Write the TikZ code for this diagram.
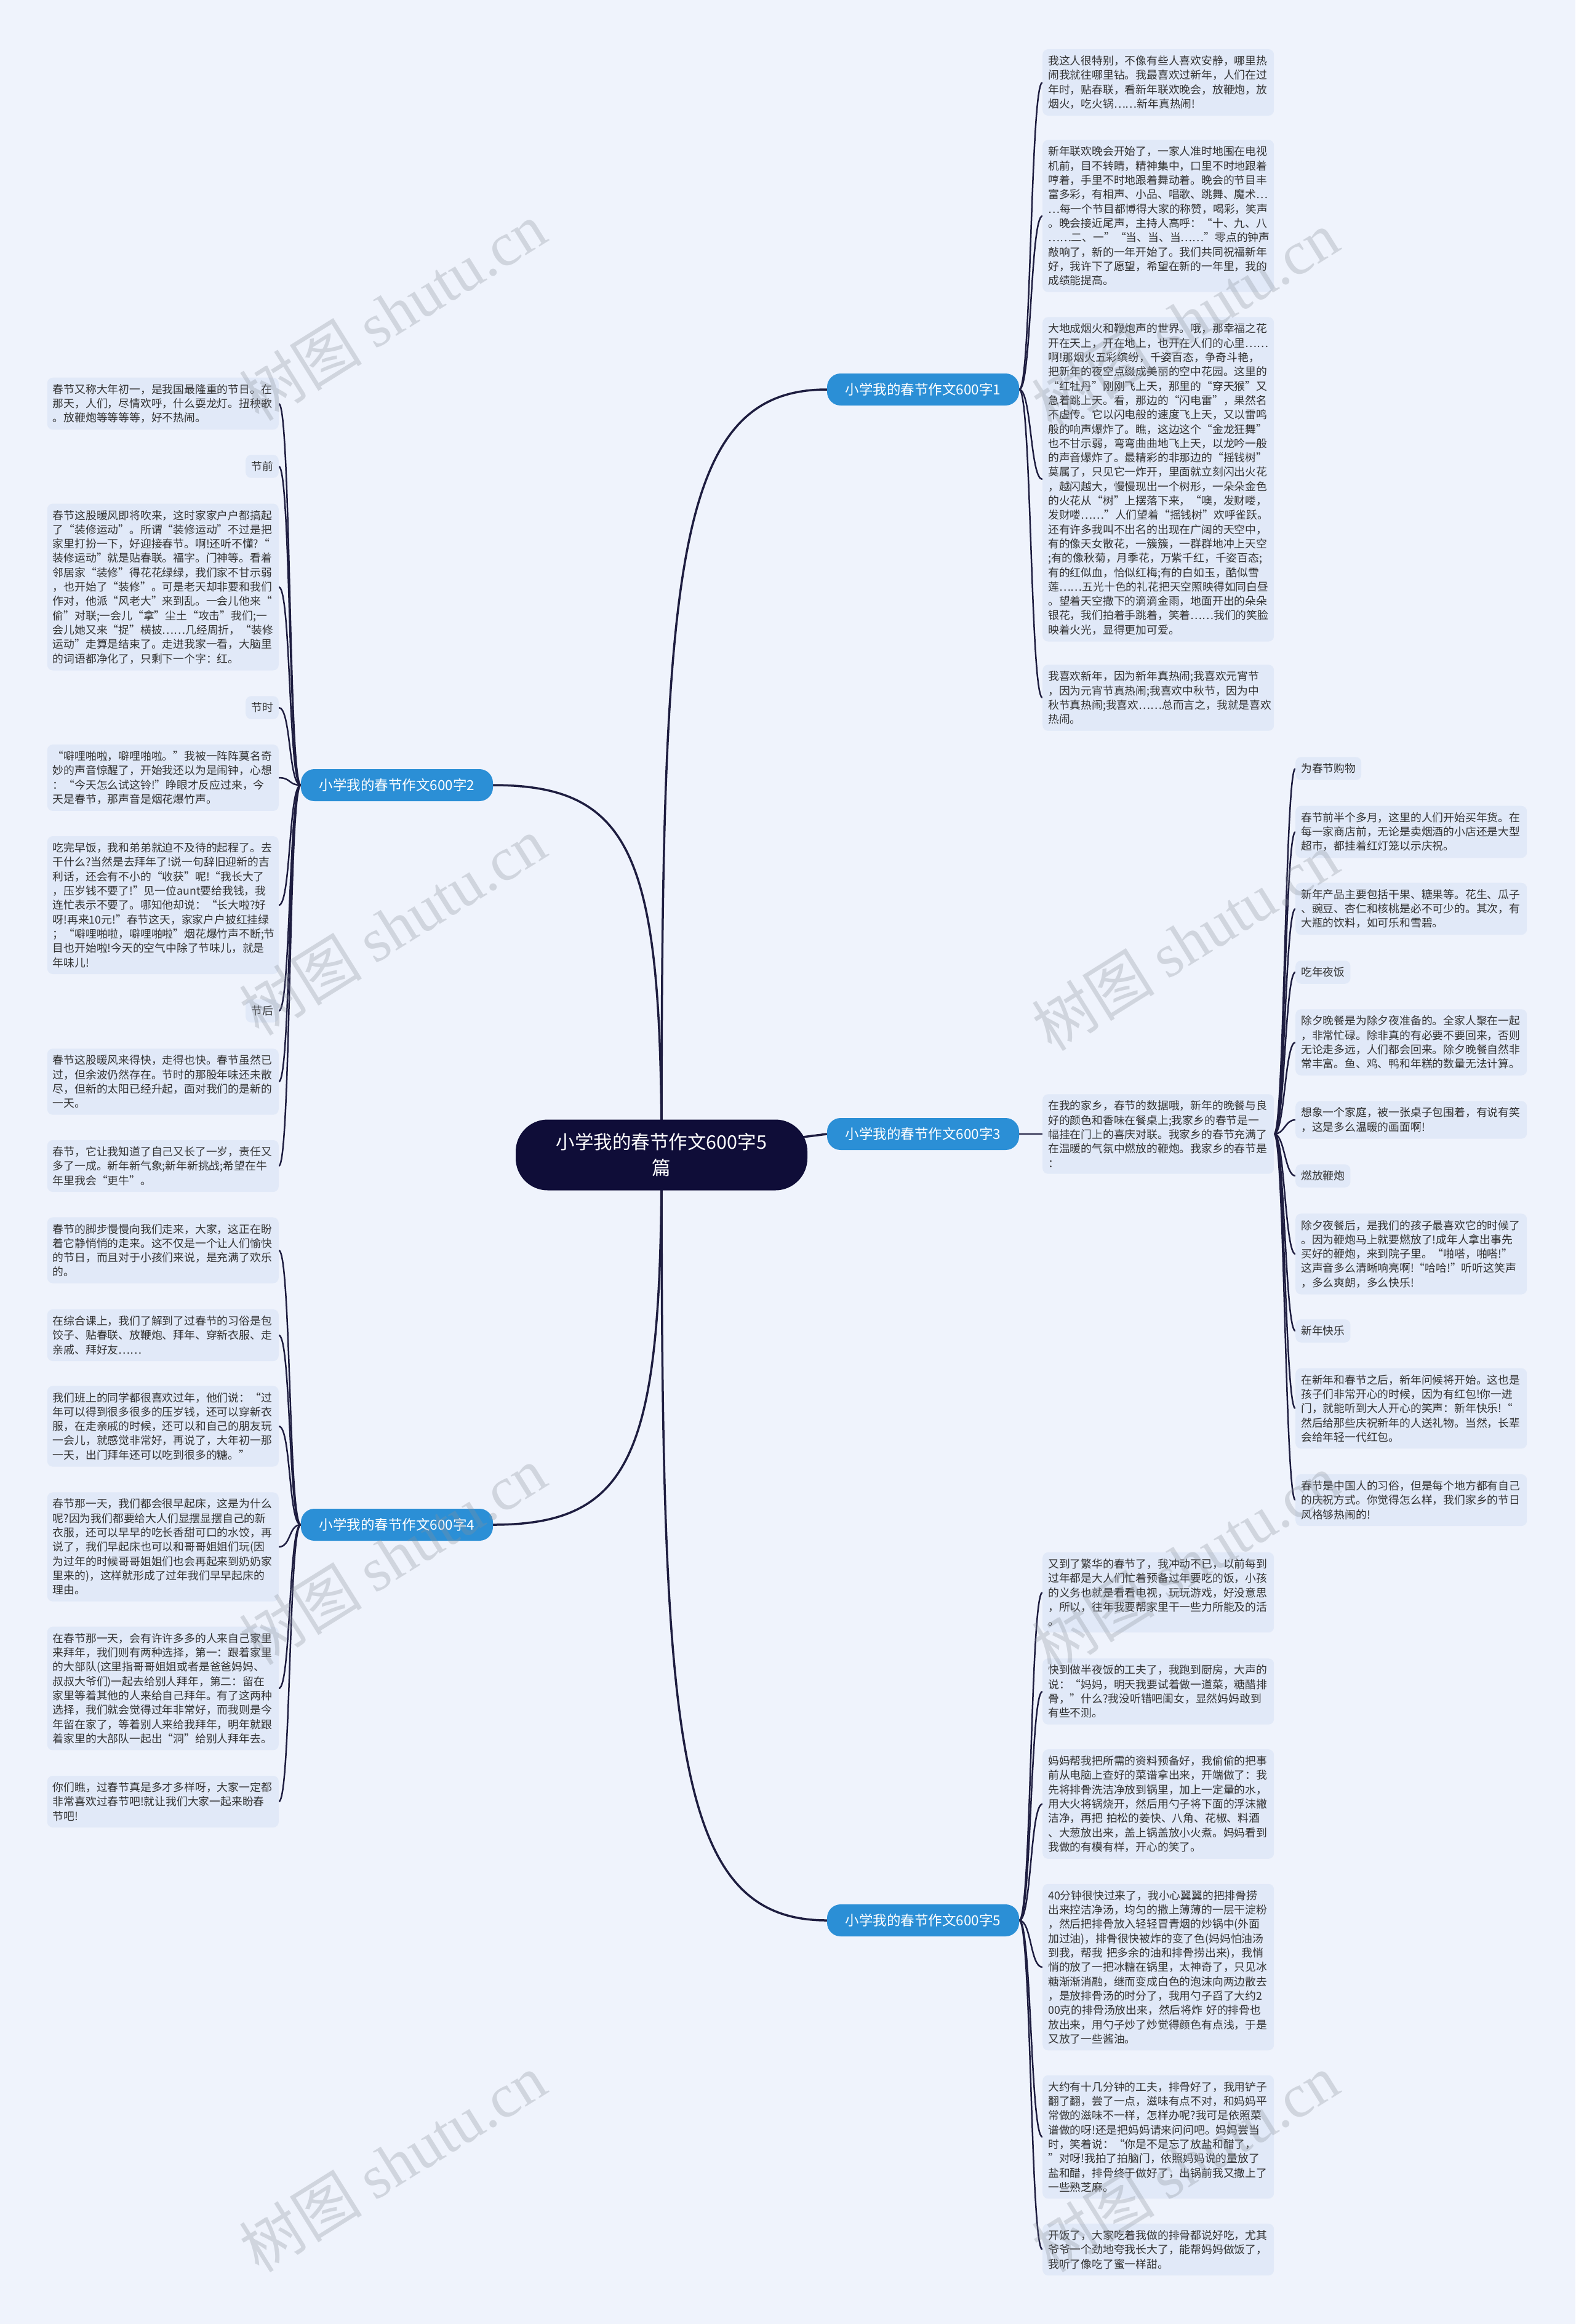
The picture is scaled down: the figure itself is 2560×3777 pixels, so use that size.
\documentclass[tikz,border=0pt]{standalone}
\usepackage{fontspec}
\setmainfont{Noto Sans CJK SC}
\newfontfamily\wmlat{Liberation Serif}
\usetikzlibrary{calc}
\pgfdeclarelayer{bg}
\pgfsetlayers{bg,main}
\definecolor{bgc}{HTML}{EFF3FC}
\definecolor{leafc}{HTML}{E1E9F8}
\definecolor{txtc}{HTML}{333333}
\definecolor{rootc}{HTML}{0F0D38}
\definecolor{brc}{HTML}{2B8FD6}
\definecolor{linec}{HTML}{1E1D40}
\definecolor{wmc}{HTML}{8A909A}
\begin{document}
\begin{tikzpicture}[x=1pt,y=-1pt,
 leaf/.style={fill=leafc, rounded corners=9pt, inner xsep=9pt, inner ysep=10.5pt, text=txtc, font=\fontsize{17.8}{23.3}\selectfont, align=left},
 para/.style={leaf, text width=358pt},
 rootbox/.style={fill=rootc, text=white, rounded corners=52pt, minimum width=474pt, minimum height=115pt, align=center, font=\fontsize{30.5}{42}\selectfont},
 brbox/.style={fill=brc, text=white, rounded corners=22pt, minimum width=312pt, minimum height=52pt, font=\fontsize{22.5}{26}\selectfont, inner sep=0pt},
 mainln/.style={draw=linec, line width=3.5pt},
 leafln/.style={draw=linec, line width=2.5pt},
 wm/.style={text=wmc, opacity=0.3, rotate=32, font=\fontsize{100}{110}\selectfont},
]
\begin{pgfonlayer}{bg}
\fill[bgc] (0,0) rectangle (2560,3777);
\end{pgfonlayer}
\useasboundingbox (0,0) rectangle (2560,3777);

% root and branches
\node[rootbox] (root) at (1075,1877) {小学我的春节作文600字5\\篇};
\node[brbox] (B1) at (1500,633) {小学我的春节作文600字1};
\node[brbox] (B2) at (645,1276) {小学我的春节作文600字2};
\node[brbox] (B3) at (1500,1843) {小学我的春节作文600字3};
\node[brbox] (B4) at (645,2478) {小学我的春节作文600字4};
\node[brbox] (B5) at (1500,3121) {小学我的春节作文600字5};

% branch 1 leaves
\node[para, anchor=west] (L1a) at (1694,134) {我这人很特别，不像有些人喜欢安静，哪里热\\闹我就往哪里钻。我最喜欢过新年，人们在过\\年时，贴春联，看新年联欢晚会，放鞭炮，放\\烟火，吃火锅……新年真热闹!};
\node[para, anchor=west] (L1b) at (1694,351) {新年联欢晚会开始了，一家人准时地围在电视\\机前，目不转睛，精神集中，口里不时地跟着\\哼着，手里不时地跟着舞动着。晚会的节目丰\\富多彩，有相声、小品、唱歌、跳舞、魔术…\\…每一个节目都博得大家的称赞，喝彩，笑声\\。晚会接近尾声，主持人高呼：“十、九、八\\……二、一”“当、当、当……”零点的钟声\\敲响了，新的一年开始了。我们共同祝福新年\\好，我许下了愿望，希望在新的一年里，我的\\成绩能提高。};
\node[para, anchor=west] (L1c) at (1694,779) {大地成烟火和鞭炮声的世界。哦，那幸福之花\\开在天上，开在地上，也开在人们的心里……\\啊!那烟火五彩缤纷，千姿百态，争奇斗艳，\\把新年的夜空点缀成美丽的空中花园。这里的\\“红牡丹”刚刚飞上天，那里的“穿天猴”又\\急着跳上天。看，那边的“闪电雷”，果然名\\不虚传。它以闪电般的速度飞上天，又以雷鸣\\般的响声爆炸了。瞧，这边这个“金龙狂舞”\\也不甘示弱，弯弯曲曲地飞上天，以龙吟一般\\的声音爆炸了。最精彩的非那边的“摇钱树”\\莫属了，只见它一炸开，里面就立刻闪出火花\\，越闪越大，慢慢现出一个树形，一朵朵金色\\的火花从“树”上摆落下来，“噢，发财喽，\\发财喽……”人们望着“摇钱树”欢呼雀跃。\\还有许多我叫不出名的出现在广阔的天空中，\\有的像天女散花，一簇簇，一群群地冲上天空\\;有的像秋菊，月季花，万紫千红，千姿百态;\\有的红似血，恰似红梅;有的白如玉，酷似雪\\莲……五光十色的礼花把天空照映得如同白昼\\。望着天空撒下的滴滴金雨，地面开出的朵朵\\银花，我们拍着手跳着，笑着……我们的笑脸\\映着火光，显得更加可爱。};
\node[para, anchor=west] (L1d) at (1694,1134) {我喜欢新年，因为新年真热闹;我喜欢元宵节\\，因为元宵节真热闹;我喜欢中秋节，因为中\\秋节真热闹;我喜欢……总而言之，我就是喜欢\\热闹。};

% branch 2 leaves
\node[para, anchor=east] (L2a) at (453,656) {春节又称大年初一，是我国最隆重的节日。在\\那天，人们，尽情欢呼，什么耍龙灯。扭秧歌\\。放鞭炮等等等等，好不热闹。};
\node[leaf, anchor=east] (L2b) at (453,758) {节前};
\node[para, anchor=east] (L2c) at (453,954) {春节这股暖风即将吹来，这时家家户户都搞起\\了“装修运动”。所谓“装修运动”不过是把\\家里打扮一下，好迎接春节。啊!还听不懂?“\\装修运动”就是贴春联。福字。门神等。看着\\邻居家“装修”得花花绿绿，我们家不甘示弱\\，也开始了“装修”。可是老天却非要和我们\\作对，他派“风老大”来到乱。一会儿他来“\\偷”对联;一会儿“拿”尘土“攻击”我们;一\\会儿她又来“捉”横披……几经周折，“装修\\运动”走算是结束了。走进我家一看，大脑里\\的词语都净化了，只剩下一个字：红。};
\node[leaf, anchor=east] (L2d) at (453,1150) {节时};
\node[para, anchor=east] (L2e) at (453,1264) {“噼哩啪啦，噼哩啪啦。”我被一阵阵莫名奇\\妙的声音惊醒了，开始我还以为是闹钟，心想\\：“今天怎么试这铃!”睁眼才反应过来，今\\天是春节，那声音是烟花爆竹声。};
\node[para, anchor=east] (L2f) at (453,1471) {吃完早饭，我和弟弟就迫不及待的起程了。去\\干什么?当然是去拜年了!说一句辞旧迎新的吉\\利话，还会有不小的“收获”呢!“我长大了\\，压岁钱不要了!”见一位aunt要给我钱，我\\连忙表示不要了。哪知他却说：“长大啦?好\\呀!再来10元!”春节这天，家家户户披红挂绿\\；“噼哩啪啦，噼哩啪啦”烟花爆竹声不断;节\\目也开始啦!今天的空气中除了节味儿，就是\\年味儿!};
\node[leaf, anchor=east] (L2g) at (453,1643) {节后};
\node[para, anchor=east] (L2h) at (453,1758) {春节这股暖风来得快，走得也快。春节虽然已\\过，但余波仍然存在。节时的那股年味还未散\\尽，但新的太阳已经升起，面对我们的是新的\\一天。};
\node[para, anchor=east] (L2i) at (453,1895) {春节，它让我知道了自己又长了一岁，责任又\\多了一成。新年新气象;新年新挑战;希望在牛\\年里我会“更牛”。};

% branch 3
\node[para, anchor=west] (T3) at (1694,1843) {在我的家乡，春节的数据哦，新年的晚餐与良\\好的颜色和香味在餐桌上;我家乡的春节是一\\幅挂在门上的喜庆对联。我家乡的春节充满了\\在温暖的气氛中燃放的鞭炮。我家乡的春节是\\：};
\node[leaf, anchor=west] (S1) at (2105,1249) {为春节购物};
\node[para, anchor=west] (S2) at (2105,1352) {春节前半个多月，这里的人们开始买年货。在\\每一家商店前，无论是卖烟酒的小店还是大型\\超市，都挂着红灯笼以示庆祝。};
\node[para, anchor=west] (S3) at (2105,1477) {新年产品主要包括干果、糖果等。花生、瓜子\\、豌豆、杏仁和核桃是必不可少的。其次，有\\大瓶的饮料，如可乐和雪碧。};
\node[leaf, anchor=west] (S4) at (2105,1580) {吃年夜饭};
\node[para, anchor=west] (S5) at (2105,1694) {除夕晚餐是为除夕夜准备的。全家人聚在一起\\，非常忙碌。除非真的有必要不要回来，否则\\无论走多远，人们都会回来。除夕晚餐自然非\\常丰富。鱼、鸡、鸭和年糕的数量无法计算。};
\node[para, anchor=west] (S6) at (2105,1820) {想象一个家庭，被一张桌子包围着，有说有笑\\，这是多么温暖的画面啊!};
\node[leaf, anchor=west] (S7) at (2105,1911) {燃放鞭炮};
\node[para, anchor=west] (S8) at (2105,2038) {除夕夜餐后，是我们的孩子最喜欢它的时候了\\。因为鞭炮马上就要燃放了!成年人拿出事先\\买好的鞭炮，来到院子里。“啪嗒，啪嗒!”\\这声音多么清晰响亮啊!“哈哈!”听听这笑声\\，多么爽朗，多么快乐!};
\node[leaf, anchor=west] (S9) at (2105,2163) {新年快乐};
\node[para, anchor=west] (S10) at (2105,2289) {在新年和春节之后，新年问候将开始。这也是\\孩子们非常开心的时候，因为有红包!你一进\\门，就能听到大人开心的笑声：新年快乐!“\\然后给那些庆祝新年的人送礼物。当然，长辈\\会给年轻一代红包。};
\node[para, anchor=west] (S11) at (2105,2438) {春节是中国人的习俗，但是每个地方都有自己\\的庆祝方式。你觉得怎么样，我们家乡的节日\\风格够热闹的!};

% branch 4 leaves
\node[para, anchor=east] (L4a) at (453,2032) {春节的脚步慢慢向我们走来，大家，这正在盼\\着它静悄悄的走来。这不仅是一个让人们愉快\\的节日，而且对于小孩们来说，是充满了欢乐\\的。};
\node[para, anchor=east] (L4b) at (453,2170) {在综合课上，我们了解到了过春节的习俗是包\\饺子、贴春联、放鞭炮、拜年、穿新衣服、走\\亲戚、拜好友……};
\node[para, anchor=east] (L4c) at (453,2318) {我们班上的同学都很喜欢过年，他们说：“过\\年可以得到很多很多的压岁钱，还可以穿新衣\\服，在走亲戚的时候，还可以和自己的朋友玩\\一会儿，就感觉非常好，再说了，大年初一那\\一天，出门拜年还可以吃到很多的糖。”};
\node[para, anchor=east] (L4d) at (453,2514) {春节那一天，我们都会很早起床，这是为什么\\呢?因为我们都要给大人们显摆显摆自己的新\\衣服，还可以早早的吃长香甜可口的水饺，再\\说了，我们早起床也可以和哥哥姐姐们玩(因\\为过年的时候哥哥姐姐们也会再起来到奶奶家\\里来的)，这样就形成了过年我们早早起床的\\理由。};
\node[para, anchor=east] (L4e) at (453,2744) {在春节那一天，会有许许多多的人来自己家里\\来拜年，我们则有两种选择，第一：跟着家里\\的大部队(这里指哥哥姐姐或者是爸爸妈妈、\\叔叔大爷们)一起去给别人拜年，第二：留在\\家里等着其他的人来给自己拜年。有了这两种\\选择，我们就会觉得过年非常好，而我则是今\\年留在家了，等着别人来给我拜年，明年就跟\\着家里的大部队一起出“洞”给别人拜年去。};
\node[para, anchor=east] (L4f) at (453,2928) {你们瞧，过春节真是多才多样呀，大家一定都\\非常喜欢过春节吧!就让我们大家一起来盼春\\节吧!};

% branch 5 leaves
\node[para, anchor=west] (L5a) at (1694,2588) {又到了繁华的春节了，我冲动不已，以前每到\\过年都是大人们忙着预备过年要吃的饭，小孩\\的义务也就是看看电视，玩玩游戏，好没意思\\，所以，往年我要帮家里干一些力所能及的活\\。};
\node[para, anchor=west] (L5b) at (1694,2749) {快到做半夜饭的工夫了，我跑到厨房，大声的\\说：“妈妈，明天我要试着做一道菜，糖醋排\\骨，”什么?我没听错吧闺女，显然妈妈敢到\\有些不测。};
\node[para, anchor=west] (L5c) at (1694,2932) {妈妈帮我把所需的资料预备好，我偷偷的把事\\前从电脑上查好的菜谱拿出来，开端做了：我\\先将排骨洗洁净放到锅里，加上一定量的水，\\用大火将锅烧开，然后用勺子将下面的浮沫撇\\洁净，再把 拍松的姜快、八角、花椒、料酒\\、大葱放出来，盖上锅盖放小火煮。妈妈看到\\我做的有模有样，开心的笑了。};
\node[para, anchor=west] (L5d) at (1694,3197) {40分钟很快过来了，我小心翼翼的把排骨捞\\出来控洁净汤，均匀的撒上薄薄的一层干淀粉\\，然后把排骨放入轻轻冒青烟的炒锅中(外面\\加过油)，排骨很快被炸的变了色(妈妈怕油汤\\到我，帮我 把多余的油和排骨捞出来)，我悄\\悄的放了一把冰糖在锅里，太神奇了，只见冰\\糖渐渐消融，继而变成白色的泡沫向两边散去\\，是放排骨汤的时分了，我用勺子舀了大约2\\00克的排骨汤放出来，然后将炸 好的排骨也\\放出来，用勺子炒了炒觉得颜色有点浅，于是\\又放了一些酱油。};
\node[para, anchor=west] (L5e) at (1694,3473) {大约有十几分钟的工夫，排骨好了，我用铲子\\翻了翻，尝了一点，滋味有点不对，和妈妈平\\常做的滋味不一样，怎样办呢?我可是依照菜\\谱做的呀!还是把妈妈请来问问吧。妈妈尝当\\时，笑着说：“你是不是忘了放盐和醋了，\\”对呀!我拍了拍脑门，依照妈妈说的量放了\\盐和醋，排骨终于做好了，出锅前我又撒上了\\一些熟芝麻。};
\node[para, anchor=west] (L5f) at (1694,3656) {开饭了，大家吃着我做的排骨都说好吃，尤其\\爷爷一个劲地夸我长大了，能帮妈妈做饭了，\\我听了像吃了蜜一样甜。};

% connectors
\begin{pgfonlayer}{bg}
\draw[mainln] (root.center) .. controls +(0,-950) and +(-250,0) .. (B1.west);
\draw[mainln] (root.center) -- (B3.west);
\draw[mainln] (root.center) .. controls +(0,950) and +(-250,0) .. (B5.west);
\draw[mainln] (root.center) .. controls +(0,-480) and +(230,0) .. (B2.east);
\draw[mainln] (root.center) .. controls +(0,480) and +(230,0) .. (B4.east);
\foreach \n in {L1a,L1b,L1c,L1d}{\draw[leafln] (B1.east) .. controls +(20,0) and +(-20,0) .. (\n.west);}
\foreach \n in {L5a,L5b,L5c,L5d,L5e,L5f}{\draw[leafln] (B5.east) .. controls +(20,0) and +(-20,0) .. (\n.west);}
\draw[leafln] (B3.east) -- (T3.west);
\foreach \n in {S1,S2,S3,S4,S5,S6,S7,S8,S9,S10,S11}{\draw[leafln] (T3.east) .. controls +(17,0) and +(-17,0) .. (\n.west);}
\foreach \n in {L2a,L2b,L2c,L2d,L2e,L2f,L2g,L2h,L2i}{\draw[leafln] (B2.west) .. controls +(-20,0) and +(20,0) .. (\n.east);}
\foreach \n in {L4a,L4b,L4c,L4d,L4e,L4f}{\draw[leafln] (B4.west) .. controls +(-20,0) and +(20,0) .. (\n.east);}
\end{pgfonlayer}

% watermarks
\foreach \wx/\wy [count=\i] in {638/506,1926/520,638/1505,1926/1530,638/2528,1926/2540,638/3515,1926/3515}{
 \node[wm] (wm\i) at (\wx,\wy) {树图 {\wmlat shutu.cn}};
}
\end{tikzpicture}
\end{document}
